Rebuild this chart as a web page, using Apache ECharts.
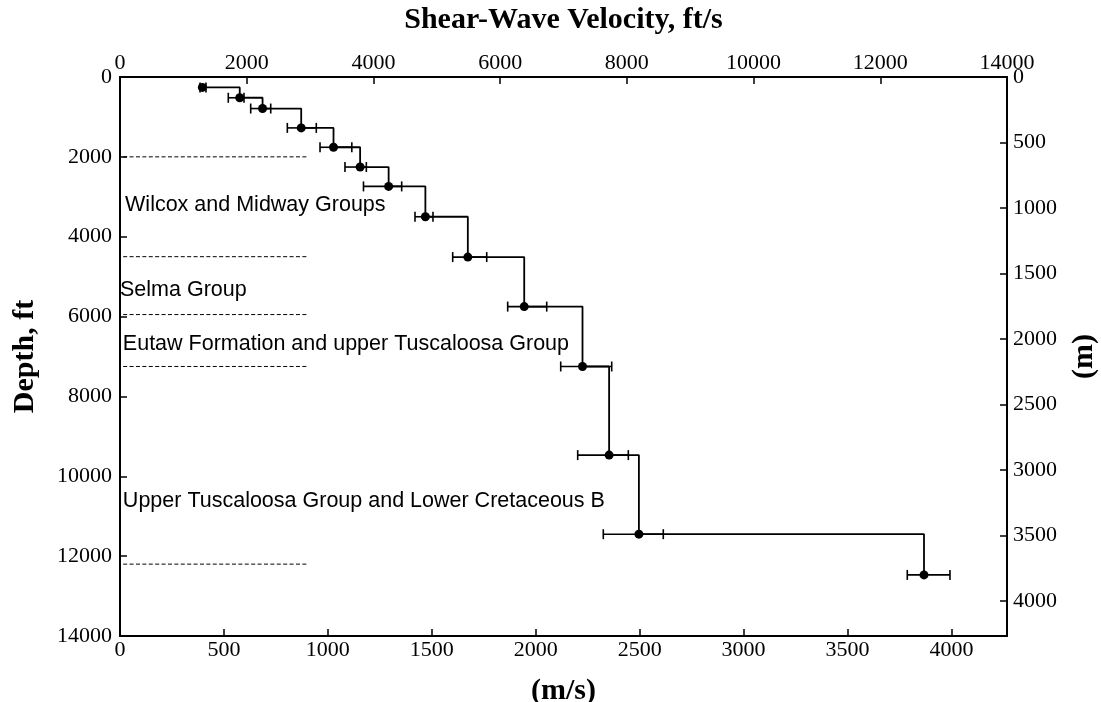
<!DOCTYPE html>
<html>
<head>
<meta charset="utf-8">
<script src="https://cdn.jsdelivr.net/npm/echarts@6/dist/echarts.min.js"></script>
<style>
html,body{margin:0;padding:0;background:#fff;}
#chart{width:1101px;height:702px;}
</style>
</head>
<body>
<div id="chart"></div>
<script>
// Shear-wave velocity (ft/s) and depth (ft) of each measured interval
const velocityFtS = [1300, 1890, 2250, 2860, 3370, 3790, 4240, 4820, 5490, 6380, 7300, 7720, 8190, 12690];
const depthFt     = [260, 520, 790, 1275, 1760, 2255, 2740, 3500, 4510, 5750, 7250, 9470, 11450, 12470];
const errLowFtS   = [1263, 1709, 2063, 2641, 3157, 3551, 3843, 4656, 5251, 6119, 6956, 7224, 7628, 12426];
const errHighFtS  = [1357, 1957, 2379, 3098, 3659, 3888, 4446, 4940, 5788, 6735, 7761, 8023, 8575, 13100];

// Formation boundaries (ft) drawn as dashed lines, and the velocity span they cover
const boundaryDepthFt = [2000, 4500, 5950, 7250, 12200];
const boundarySpanFtS = [50, 2960];

// Formation labels
const formationNames = ['Wilcox and Midway Groups', 'Selma Group', 'Eutaw Formation and upper Tuscaloosa Group', 'Upper Tuscaloosa Group and Lower Cretaceous B'];
const formationLabelDepthFt = [3205, 5347, 6687, 10619];
const formationLabelVelFtS = [80, 0, 45, 45];

// Axis ranges
const FT_MAX = 14000;
const M_MAX = FT_MAX * 0.3048;

const serif = 'Liberation Serif, Times New Roman, serif';
const sans = 'Liberation Sans, Arial, sans-serif';

const chart = echarts.init(document.getElementById('chart'));

const axisCommon = {
  type: 'value',
  axisLine: { show: true, onZero: false, lineStyle: { color: '#000', width: 2 } },
  axisTick: { show: true, inside: true, length: 7, lineStyle: { color: '#000', width: 1.5 } },
  splitLine: { show: false },
  nameTextStyle: { fontFamily: serif, fontWeight: 'bold', fontSize: 30, color: '#000' }
};

function plainMultiples(step) {
  return function (v) {
    const r = Math.round(v);
    return (Math.abs(v - r) < 1e-6 && r % step === 0) ? String(r) : '';
  };
}

const option = {
  animation: false,
  backgroundColor: '#fff',
  grid: { left: 120, right: 94, top: 77, bottom: 66, containLabel: false, outerBoundsMode: 'none' },
  xAxis: [
    Object.assign({}, axisCommon, {
      position: 'top', min: 0, max: FT_MAX, interval: 2000,
      name: 'Shear-Wave Velocity, ft/s', nameLocation: 'middle', nameGap: 42,
      axisLabel: { fontFamily: serif, fontSize: 22, color: '#000', margin: 3, formatter: plainMultiples(2000) }
    }),
    Object.assign({}, axisCommon, {
      position: 'bottom', min: 0, max: M_MAX, interval: 500,
      name: '(m/s)', nameLocation: 'middle', nameGap: 40,
      axisLabel: { fontFamily: serif, fontSize: 22, color: '#000', margin: 3, formatter: plainMultiples(500) }
    })
  ],
  yAxis: [
    Object.assign({}, axisCommon, {
      position: 'left', inverse: true, min: 0, max: FT_MAX, interval: 2000,
      name: 'Depth, ft', nameLocation: 'middle', nameGap: 80, nameRotate: 90,
      axisLabel: { fontFamily: serif, fontSize: 22, color: '#000', margin: 8, formatter: plainMultiples(2000) }
    }),
    Object.assign({}, axisCommon, {
      position: 'right', inverse: true, min: 0, max: M_MAX, interval: 500,
      name: '(m)', nameLocation: 'middle', nameGap: 62, nameRotate: 90,
      axisLabel: { fontFamily: serif, fontSize: 22, color: '#000', margin: 6, formatter: plainMultiples(500) }
    })
  ],
  series: [
    {
      type: 'custom',
      name: 'boundaries',
      xAxisIndex: 0, yAxisIndex: 0,
      data: boundaryDepthFt.map(d => [boundarySpanFtS[0], d, boundarySpanFtS[1]]),
      renderItem: function (params, api) {
        const a = api.coord([api.value(0), api.value(1)]);
        const b = api.coord([api.value(2), api.value(1)]);
        return {
          type: 'line',
          shape: { x1: a[0], y1: a[1], x2: b[0], y2: b[1] },
          style: { stroke: '#000', lineWidth: 1, lineDash: [4, 2.4] }
        };
      },
      silent: true, z: 1
    },
    {
      type: 'custom',
      name: 'labels',
      xAxisIndex: 0, yAxisIndex: 0,
      data: formationNames.map((n, i) => [formationLabelVelFtS[i], formationLabelDepthFt[i], i]),
      renderItem: function (params, api) {
        const p = api.coord([api.value(0), api.value(1)]);
        return {
          type: 'text',
          x: p[0], y: p[1],
          style: {
            text: formationNames[api.value(2)],
            fill: '#000', font: '21.5px ' + sans,
            align: 'left', verticalAlign: 'middle'
          }
        };
      },
      silent: true, z: 2
    },
    {
      type: 'custom',
      name: 'errorbars',
      xAxisIndex: 0, yAxisIndex: 0,
      data: depthFt.map((d, i) => [errLowFtS[i], d, errHighFtS[i]]),
      renderItem: function (params, api) {
        const a = api.coord([api.value(0), api.value(1)]);
        const b = api.coord([api.value(2), api.value(1)]);
        const h = 5;
        const st = { stroke: '#000', lineWidth: 1.6 };
        return {
          type: 'group',
          children: [
            { type: 'line', shape: { x1: a[0], y1: a[1], x2: b[0], y2: b[1] }, style: st },
            { type: 'line', shape: { x1: a[0], y1: a[1] - h, x2: a[0], y2: a[1] + h }, style: st },
            { type: 'line', shape: { x1: b[0], y1: b[1] - h, x2: b[0], y2: b[1] + h }, style: st }
          ]
        };
      },
      silent: true, z: 3
    },
    {
      type: 'line',
      name: 'profile',
      xAxisIndex: 0, yAxisIndex: 0,
      step: 'end',
      data: velocityFtS.map((v, i) => [v, depthFt[i]]),
      symbol: 'circle', symbolSize: 9,
      showAllSymbol: true,
      itemStyle: { color: '#000' },
      lineStyle: { color: '#000', width: 1.8 },
      clip: false,
      silent: true, z: 4
    }
  ]
};

chart.setOption(option);
</script>
</body>
</html>
